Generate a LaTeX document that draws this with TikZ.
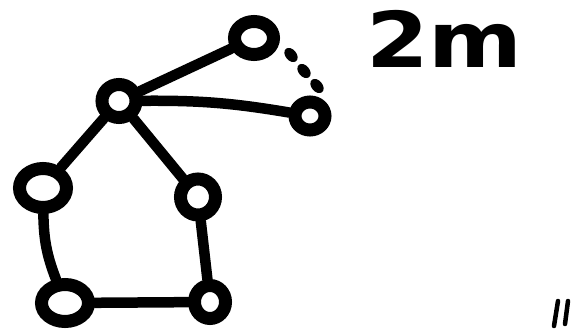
\documentclass[tikz,border=0pt]{standalone}
\usepackage{fontspec}
\usetikzlibrary{shapes.geometric}
\newfontfamily\handfont{DejaVu Sans}
\begin{document}
\begin{tikzpicture}[x=1pt,y=-1pt,
  ring/.style={draw, ellipse, line width=13pt, inner sep=0pt},
  edge/.style={line width=10.5pt, line cap=round},
  dotmark/.style={fill, ellipse, inner sep=0pt, minimum width=16pt, minimum height=11pt},
  tick/.style={line width=4.5pt, line cap=round}]
\useasboundingbox (0,0) rectangle (571,329);
\node[ring, minimum width=39pt, minimum height=33pt] (top) at (254,38) {};
\node[ring, minimum width=34pt, minimum height=33pt] (hub) at (119,101) {};
\node[ring, minimum width=30pt, minimum height=28pt] (right) at (310,116) {};
\node[ring, minimum width=47pt, minimum height=39pt] (left) at (43,188) {};
\node[ring, minimum width=35pt, minimum height=36pt] (midr) at (198,197) {};
\node[ring, minimum width=47pt, minimum height=37pt] (botl) at (65,303) {};
\node[ring, minimum width=31pt, minimum height=33pt] (botr) at (210,302) {};
\draw[edge] (hub) -- (top);
\draw[edge] (hub) to[bend left=5] (right);
\draw[edge] (hub) -- (left);
\draw[edge] (hub) -- (midr);
\draw[edge] (left) to[bend right=10] (botl);
\draw[edge] (midr) -- (botr);
\draw[edge] (botl) -- (botr);
\node[dotmark, rotate=-50] (d1) at (291,55) {};
\node[dotmark, rotate=-50] (d2) at (304,71) {};
\node[dotmark, rotate=-50] (d3) at (317,86) {};
\node[anchor=base west, inner sep=0pt, xscale=1.17, font=\handfont\bfseries\fontsize{77}{77}\selectfont] (lbl) at (366,68) {2m};
\coordinate (t1a) at (558,301);
\coordinate (t1b) at (554,326);
\coordinate (t2a) at (568,301);
\coordinate (t2b) at (565,324);
\draw[tick] (t1a) -- (t1b);
\draw[tick] (t2a) -- (t2b);
\end{tikzpicture}
\end{document}
